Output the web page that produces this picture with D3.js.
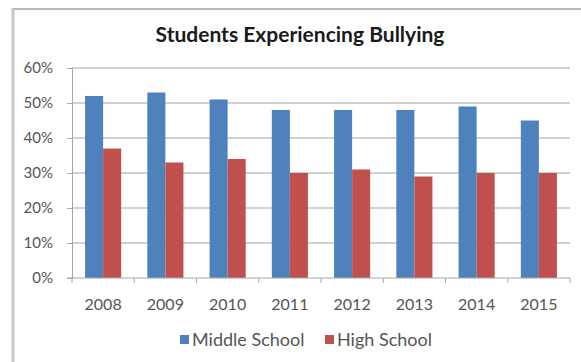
<!DOCTYPE html>
<html>
<head>
<meta charset="utf-8">
<script src="https://cdn.jsdelivr.net/npm/d3@7"></script>
<style>
  body { margin: 0; background: #fff; }
  text { font-family: Lato, "Open Sans", sans-serif; }
</style>
</head>
<body>
<div id="chart"></div>
<script>
// chart data
const years = ['2008', '2009', '2010', '2011', '2012', '2013', '2014', '2015'];
const seriesNames = ['Middle School', 'High School'];
const middleSchool = [52, 53, 51, 48, 48, 48, 49, 45];
const highSchool = [37, 33, 34, 30, 31, 29, 30, 30];
const yTicks = [0, 10, 20, 30, 40, 50, 60];
const colors = ['#4f81bd', '#c0504d'];

const width = 581, height = 362;
const margin = {top: 68, right: 11, bottom: 84, left: 72};

const svg = d3.select('#chart').append('svg')
    .attr('width', width)
    .attr('height', height);

// frame (top and left edge only visible)
svg.append('line')
    .attr('x1', 12).attr('x2', width)
    .attr('y1', 9).attr('y2', 9)
    .attr('stroke', '#b8b8b8').attr('stroke-width', 2);
svg.append('line')
    .attr('x1', 13).attr('x2', 13)
    .attr('y1', 8).attr('y2', height)
    .attr('stroke', '#c8c8c8').attr('stroke-width', 3);

svg.append('text')
    .attr('x', 300)
    .attr('y', 42)
    .attr('text-anchor', 'middle')
    .style('font-weight', 'bold')
    .style('font-size', '21px')
    .attr('fill', '#1a1a1a')
    .text('Students Experiencing Bullying');

const x0 = d3.scaleBand()
    .domain(years)
    .range([margin.left, width - margin.right])
    .paddingInner(0.42)
    .paddingOuter(0.21);

const x1 = d3.scaleBand()
    .domain(seriesNames)
    .range([0, x0.bandwidth()]);

const y = d3.scaleLinear()
    .domain([0, 60])
    .range([height - margin.bottom, margin.top]);

// gridlines
svg.append('g')
    .selectAll('line')
    .data(yTicks.filter(d => d > 0))
    .join('line')
    .attr('x1', margin.left).attr('x2', width - margin.right)
    .attr('y1', d => y(d)).attr('y2', d => y(d))
    .attr('stroke', '#a6a6a6').attr('stroke-width', 1.2);

// y axis
const yAxis = svg.append('g')
    .attr('transform', 'translate(' + margin.left + ',0)')
    .call(d3.axisLeft(y).tickValues(yTicks).tickFormat(d => d + '%').tickSize(5).tickPadding(14));
yAxis.select('.domain').attr('stroke', '#a6a6a6');
yAxis.selectAll('line').attr('stroke', '#a6a6a6');
yAxis.selectAll('text').style('font-size', '15px').attr('fill', '#555');

const data = years.map((yr, i) => ({year: yr, values: [middleSchool[i], highSchool[i]]}));

const groups = svg.append('g')
    .selectAll('g')
    .data(data)
    .join('g')
    .attr('transform', d => 'translate(' + x0(d.year) + ',0)');

groups.selectAll('rect')
    .data(d => d.values.map((v, j) => ({name: seriesNames[j], value: v, j: j})))
    .join('rect')
    .attr('x', d => x1(d.name))
    .attr('width', x1.bandwidth())
    .attr('y', d => y(d.value))
    .attr('height', d => y(0) - y(d.value))
    .attr('fill', d => colors[d.j]);

// x axis with ticks between categories
const xAxis = svg.append('g')
    .attr('transform', 'translate(0,' + y(0) + ')');
xAxis.append('line')
    .attr('x1', margin.left - 5).attr('x2', width - margin.right)
    .attr('stroke', '#a6a6a6').attr('stroke-width', 1.2);
const span = width - margin.right - margin.left;
xAxis.selectAll('line.tk')
    .data(d3.range(years.length + 1))
    .join('line')
    .attr('class', 'tk')
    .attr('x1', i => margin.left + i * span / years.length)
    .attr('x2', i => margin.left + i * span / years.length)
    .attr('y1', 0).attr('y2', 5)
    .attr('stroke', '#a6a6a6');
xAxis.selectAll('text')
    .data(years)
    .join('text')
    .attr('x', d => x0(d) + x0.bandwidth() / 2)
    .attr('y', 32)
    .attr('text-anchor', 'middle')
    .style('font-size', '16px')
    .attr('fill', '#555')
    .text(d => d);

// legend
const legendX = [180, 325];
const legend = svg.append('g')
    .selectAll('g')
    .data(seriesNames)
    .join('g')
    .attr('transform', (d, i) => 'translate(' + legendX[i] + ',340)');
legend.append('rect')
    .attr('x', 0).attr('y', -5)
    .attr('width', 9).attr('height', 9)
    .attr('fill', (d, i) => colors[i]);
legend.append('text')
    .attr('x', 12).attr('y', 6)
    .style('font-size', '18px')
    .attr('fill', '#555')
    .text(d => d);
</script>
</body>
</html>
